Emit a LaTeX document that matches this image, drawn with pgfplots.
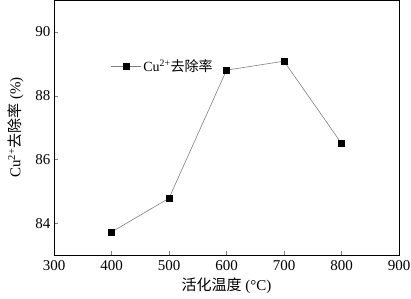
\documentclass[border=0pt]{standalone}
\usepackage{pgfplots}
\pgfplotsset{compat=1.18}
\usepackage{fontspec}
\setmainfont{Liberation Serif}
\newfontfamily\cjk{Noto Sans CJK SC}
\begin{document}
\begin{tikzpicture}[x=1pt,y=1pt]
\useasboundingbox (-54,-43) rectangle (357,255);
\begin{axis}[
  at={(0,0)}, anchor=south west,
  scale only axis, width=345pt, height=255pt,
  xmin=300, xmax=900, ymin=83, ymax=91,
  xtick={300,400,...,900}, ytick={84,86,88,90},
  tick align=inside, tick pos=left,
  major tick length=4pt,
  /pgf/number format/assume math mode=true,
  /pgf/number format/1000 sep={},
  tick label style={font=\fontsize{15}{17}\selectfont},
  xticklabel style={yshift=-2pt},
  label style={font=\fontsize{15}{17}\selectfont},
  xlabel={{\cjk 活化温度} (°C)},
  ylabel={Cu\textsuperscript{2+}{\cjk 去除率} (\%)},
  xlabel style={yshift=0pt},
  ylabel style={yshift=5pt},
  legend style={draw=none, fill=none, at={(0.155,0.741)}, anchor=west, font=\fontsize{14}{16}\selectfont},
  legend cell align=left,
  axis line style={line width=0.8pt},
]
\addlegendimage{legend image code/.code={
  \draw[gray, line width=0.6pt] (0pt,0pt) -- (30pt,0pt);
  \fill[black] (12pt,-3pt) rectangle (18pt,3pt);}}
\addlegendentry{Cu\textsuperscript{2+}{\cjk 去除率}}
\addplot[gray, line width=0.6pt, mark=square*, mark size=3pt, mark options={black, fill=black}, forget plot] coordinates {
(400,83.72) (500,84.78) (600,88.8) (700,89.08) (800,86.5)};
\end{axis}
\end{tikzpicture}
\end{document}
